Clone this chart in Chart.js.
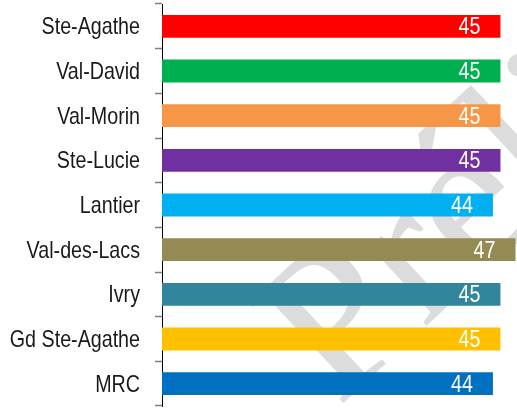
<!DOCTYPE html>
<html>
<head>
<meta charset="utf-8">
<script src="https://cdn.jsdelivr.net/npm/chart.js@4/dist/chart.umd.min.js"></script>
<style>
html,body{margin:0;padding:0;background:#fff;}
#wrap{width:517px;height:409px;position:relative;}
</style>
</head>
<body>
<div id="wrap"><canvas id="c" width="517" height="409"></canvas></div>
<script>
const categories = ["Ste-Agathe","Val-David","Val-Morin","Ste-Lucie","Lantier","Val-des-Lacs","Ivry","Gd Ste-Agathe","MRC"];
const values = [45,45,45,45,44,47,45,45,44];
const barColors = ["#FF0000","#00B050","#F79646","#7030A0","#00B0F0","#948A54","#31859C","#FFC000","#0070C0"];
const watermarkText = "Préliminaire";

const FONT = "'Liberation Sans',Arial,sans-serif";
const NARROW = 0.82;

// draws text horizontally condensed (Arial Narrow look)
function narrowText(ctx, text, x, y, align) {
  ctx.save();
  ctx.translate(x, y);
  ctx.scale(NARROW, 1);
  ctx.textAlign = align;
  ctx.textBaseline = 'alphabetic';
  ctx.fillText(text, 0, 0);
  ctx.restore();
}

const watermark = {
  id: 'watermark',
  beforeDatasetsDraw(chart) {
    const ctx = chart.ctx;
    ctx.save();
    ctx.translate(338, 408);
    ctx.rotate(-0.75);
    ctx.font = "210px 'Liberation Serif','DejaVu Serif',serif";
    ctx.fillStyle = "#dcdcdc";
    ctx.textBaseline = "alphabetic";
    ctx.fillText(watermarkText, 0, 0);
    ctx.restore();
  }
};

const textLabels = {
  id: 'textLabels',
  afterDatasetsDraw(chart) {
    const ctx = chart.ctx;
    const meta = chart.getDatasetMeta(0);
    const yScale = chart.scales.y;
    ctx.save();
    ctx.font = "24px " + FONT;
    // category labels
    ctx.fillStyle = "#1a1a1a";
    categories.forEach((c, i) => {
      const y = yScale.getPixelForValue(i);
      narrowText(ctx, c, yScale.right - 22, y + 8, 'right');
    });
    // value labels inside bar ends
    ctx.fillStyle = "#ffffff";
    meta.data.forEach((bar, i) => {
      narrowText(ctx, String(values[i]), bar.x - 20, bar.y + 8, 'right');
    });
    ctx.restore();
  }
};

new Chart(document.getElementById('c'), {
  type: 'bar',
  data: {
    labels: categories,
    datasets: [{
      data: values,
      backgroundColor: barColors,
      borderWidth: 0,
      barPercentage: 0.51,
      categoryPercentage: 1.0
    }]
  },
  options: {
    indexAxis: 'y',
    responsive: false,
    animation: false,
    devicePixelRatio: 1,
    layout: { padding: { top: 4, bottom: 3, left: 0, right: 0 } },
    plugins: { legend: { display: false }, tooltip: { enabled: false } },
    scales: {
      x: {
        display: false,
        min: 0,
        max: 47.2
      },
      y: {
        afterFit(s) { s.width = 162; s.paddingTop = 0; s.paddingBottom = 0; },
        grid: {
          offset: true,
          drawOnChartArea: false,
          drawTicks: true,
          tickLength: 7,
          tickColor: '#7f7f7f',
          tickWidth: 1.5
        },
        border: { display: true, color: '#000000', width: 1 },
        ticks: { display: false }
      }
    }
  },
  plugins: [watermark, textLabels]
});
</script>
</body>
</html>
